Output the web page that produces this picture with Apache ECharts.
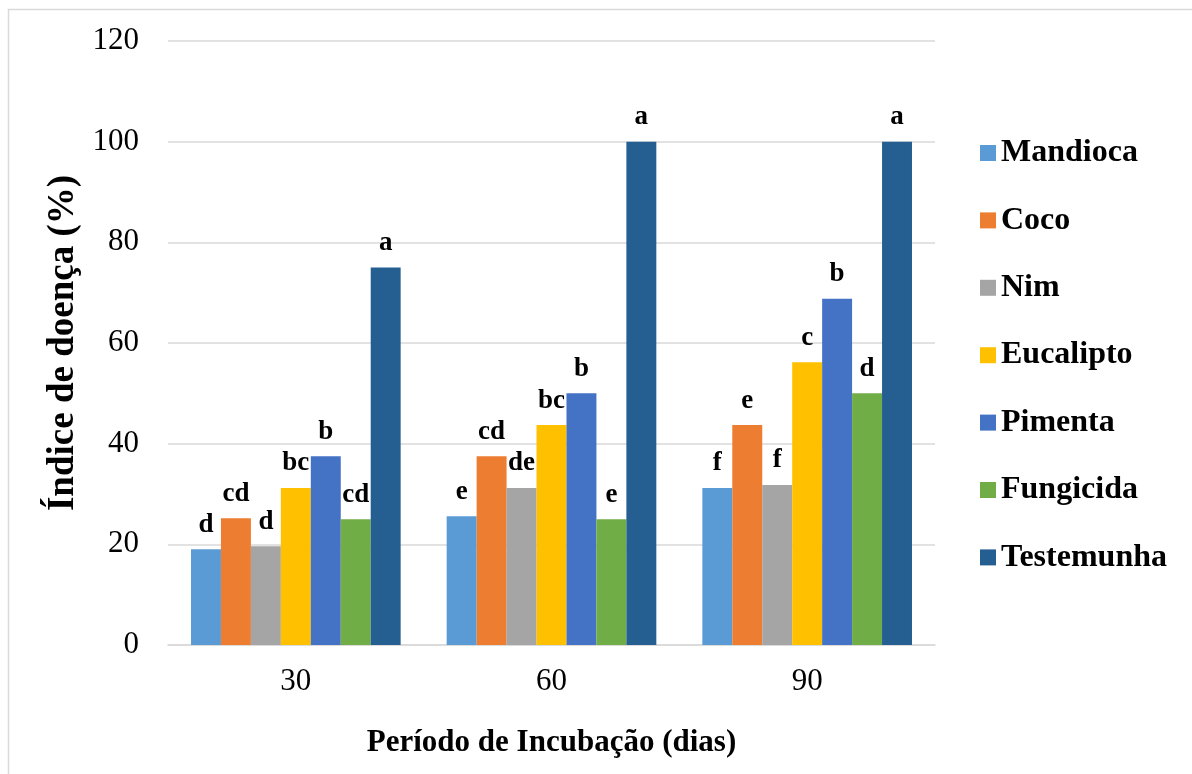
<!DOCTYPE html>
<html>
<head>
<meta charset="utf-8">
<script src="https://cdn.jsdelivr.net/npm/echarts@6/dist/echarts.min.js"></script>
<style>
html,body{margin:0;padding:0;background:#fff;}
#chart{width:1192px;height:774px;}
</style>
</head>
<body>
<div id="chart"></div>
<script>
const categories = ['30', '60', '90'];
const yTicks = [0, 20, 40, 60, 80, 100, 120];
const seriesNames = ['Mandioca', 'Coco', 'Nim', 'Eucalipto', 'Pimenta', 'Fungicida', 'Testemunha'];
const mandioca   = [19.0, 25.6, 31.2];
const coco       = [25.2, 37.5, 43.7];
const nim        = [19.6, 31.2, 31.8];
const eucalipto  = [31.2, 43.7, 56.2];
const pimenta    = [37.5, 50.0, 68.8];
const fungicida  = [25.0, 25.0, 50.0];
const testemunha = [75.0, 100.0, 100.0];
const letMandioca   = ['d', 'e', 'f'];
const letCoco       = ['cd', 'cd', 'e'];
const letNim        = ['d', 'de', 'f'];
const letEucalipto  = ['bc', 'bc', 'c'];
const letPimenta    = ['b', 'b', 'b'];
const letFungicida  = ['cd', 'e', 'd'];
const letTestemunha = ['a', 'a', 'a'];
const colors = ['#5B9BD5', '#ED7D31', '#A5A5A5', '#FFC000', '#4472C4', '#70AD47', '#255E91'];

const values = [mandioca, coco, nim, eucalipto, pimenta, fungicida, testemunha];
const letters = [letMandioca, letCoco, letNim, letEucalipto, letPimenta, letFungicida, letTestemunha];
const FONT = '"Liberation Serif", "Times New Roman", serif';

const chart = echarts.init(document.getElementById('chart'));
chart.setOption({
  backgroundColor: '#fff',
  animation: false,
  textStyle: { fontFamily: FONT, color: '#000' },
  graphic: [{
    type: 'rect', left: 6, top: 7, silent: true,
    shape: { width: 1400, height: 1000 },
    style: { fill: 'none', stroke: '#d9d9d9', lineWidth: 1.5 }
  }],
  grid: { left: 168, right: 257, top: 41, bottom: 129, containLabel: false },
  legend: {
    orient: 'vertical', left: 980, top: 137, padding: 0,
    itemWidth: 16, itemHeight: 16, itemGap: 35.4, itemTextGap: 7,
    icon: 'rect',
    textStyle: { fontFamily: FONT, fontSize: 32, fontWeight: 'bold', color: '#000' },
    data: seriesNames
  },
  xAxis: {
    type: 'category', data: categories,
    name: 'Período de Incubação (dias)', nameLocation: 'middle', nameGap: 82,
    nameTextStyle: { fontFamily: FONT, fontSize: 31, fontWeight: 'bold', color: '#000' },
    axisLine: { show: true, lineStyle: { color: '#d9d9d9', width: 1.5 } },
    axisTick: { show: false },
    axisLabel: { fontFamily: FONT, fontSize: 31, color: '#000', margin: 21 }
  },
  yAxis: {
    type: 'value', min: yTicks[0], max: yTicks[yTicks.length - 1], interval: 20,
    name: 'Índice de doença (%)', nameLocation: 'middle', nameGap: 78,
    nameTextStyle: { fontFamily: FONT, fontSize: 37, fontWeight: 'bold', color: '#000' },
    axisLine: { show: false }, axisTick: { show: false },
    axisLabel: { fontFamily: FONT, fontSize: 31, color: '#000', margin: 29 },
    splitLine: { lineStyle: { color: '#d9d9d9', width: 1.5 } }
  },
  series: seriesNames.map((n, i) => ({
    name: n, type: 'bar', data: values[i],
    barGap: '0%', barCategoryGap: '18%',
    itemStyle: { color: colors[i] },
    label: {
      show: true, position: 'top', distance: 11,
      fontFamily: FONT, fontSize: 27, fontWeight: 'bold', color: '#000',
      formatter: p => letters[i][p.dataIndex]
    }
  }))
});
</script>
</body>
</html>
